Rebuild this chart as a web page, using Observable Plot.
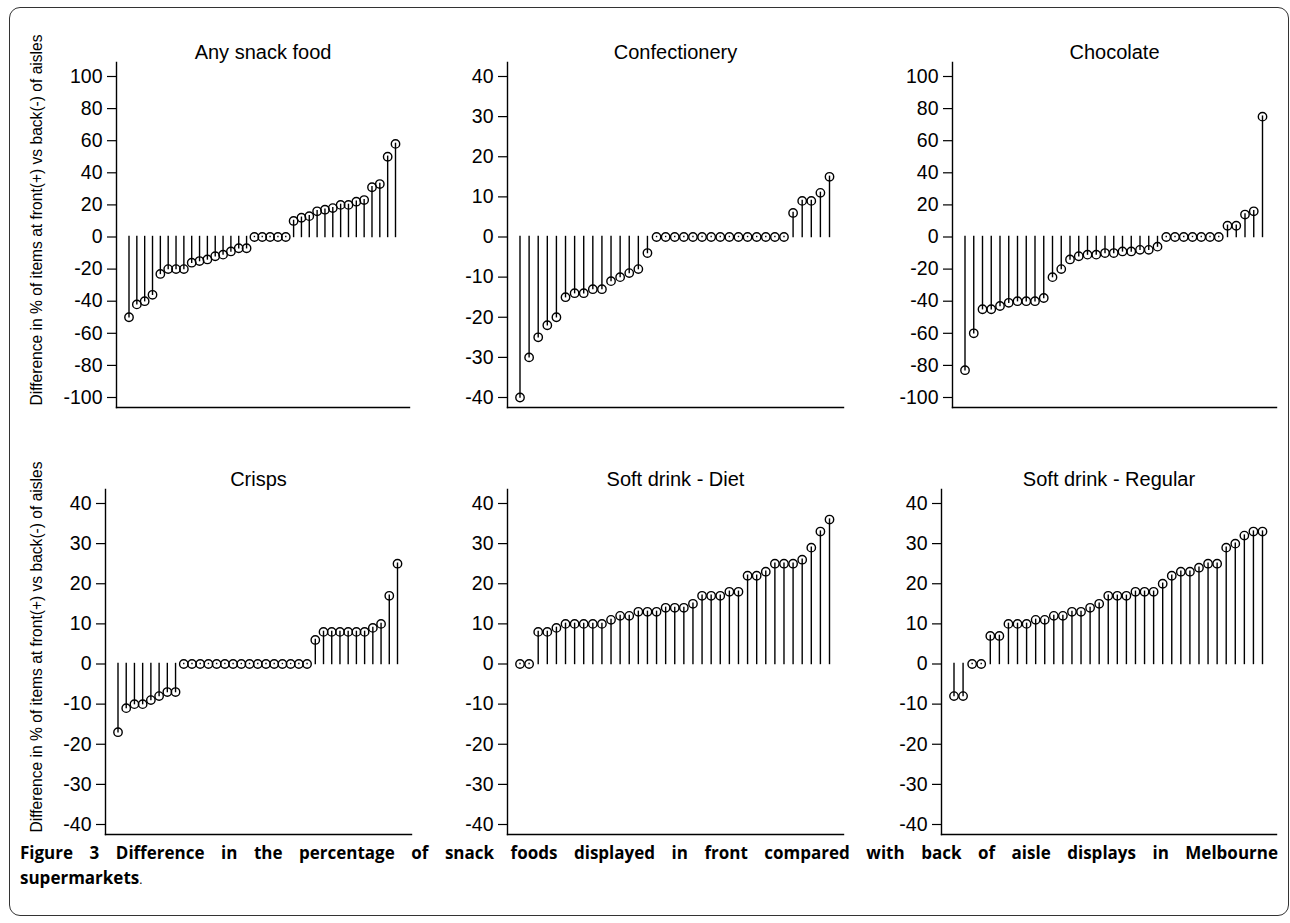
<!DOCTYPE html>
<html>
<head>
<meta charset="utf-8">
<script src="https://cdn.jsdelivr.net/npm/d3@7"></script>
<script src="https://cdn.jsdelivr.net/npm/@observablehq/plot@0.6"></script>
<style>
  html, body { margin: 0; padding: 0; background: #fff; }
  body { width: 1290px; height: 923px; position: relative; overflow: hidden; font-family: "Liberation Sans", Arial, sans-serif; }
  #border { position: absolute; left: 9px; top: 7px; width: 1280px; height: 909px; border: 1.3px solid #333; border-radius: 11px; box-sizing: border-box; }
  .panel { position: absolute; }
  .ylab { position: absolute; width: 440px; height: 18px; line-height: 18px; text-align: center; font-family: "Liberation Sans", Arial, sans-serif; font-size: 15.6px; color: #000; transform: rotate(-90deg); transform-origin: center center; white-space: nowrap; }
  #caption { position: absolute; left: 20px; top: 840px; width: 1258px; font-family: "Open Sans", "DejaVu Sans", sans-serif; font-size: 17px; color: #000; line-height: 25px; }
  #caption .l1 { font-weight: bold; text-align: justify; text-align-last: justify; white-space: nowrap; overflow: hidden; }
  #caption .l1 { white-space: normal; }
  #caption .l2 b { font-weight: bold; }
  #caption .l2 span { font-size: 12px; }
</style>
</head>
<body>
<div id="border"></div>
<div id="charts"></div>
<div class="ylab" style="left:-183px; top:211px;">Difference in % of items at front(+) vs back(-) of aisles</div>
<div class="ylab" style="left:-183px; top:638px;">Difference in % of items at front(+) vs back(-) of aisles</div>
<div id="caption">
  <div class="l1">Figure 3 Difference in the percentage of snack foods displayed in front compared with back of aisle displays in Melbourne</div>
  <div class="l2"><b>supermarkets</b><span>.</span></div>
</div>
<script>
// ---- Data (35 supermarkets per panel, sorted) ----
const titles = ["Any snack food", "Confectionery", "Chocolate", "Crisps", "Soft drink - Diet", "Soft drink - Regular"];

const anySnack = [-50,-42,-40,-36,-23,-20,-20,-20,-16,-15,-14,-12,-11,-9,-7,-7,0,0,0,0,0,10,12,13,16,17,18,20,20,22,23,31,33,50,58];
const confectionery = [-40,-30,-25,-22,-20,-15,-14,-14,-13,-13,-11,-10,-9,-8,-4,0,0,0,0,0,0,0,0,0,0,0,0,0,0,0,6,9,9,11,15];
const chocolate = [-83,-60,-45,-45,-43,-41,-40,-40,-40,-38,-25,-20,-14,-12,-11,-11,-10,-10,-9,-9,-8,-8,-6,0,0,0,0,0,0,0,7,7,14,16,75];
const crisps = [-17,-11,-10,-10,-9,-8,-7,-7,0,0,0,0,0,0,0,0,0,0,0,0,0,0,0,0,6,8,8,8,8,8,8,9,10,17,25];
const softDiet = [0,0,8,8,9,10,10,10,10,10,11,12,12,13,13,13,14,14,14,15,17,17,17,18,18,22,22,23,25,25,25,26,29,33,36];
const softRegular = [-8,-8,0,0,7,7,10,10,10,11,11,12,12,13,13,14,15,17,17,17,18,18,18,20,22,23,23,24,25,25,29,30,32,33,33];

const ticksWide = [-100,-80,-60,-40,-20,0,20,40,60,80,100];
const ticksNarrow = [-40,-30,-20,-10,0,10,20,30,40];

const series = [anySnack, confectionery, chocolate, crisps, softDiet, softRegular];
const tickSets = [ticksWide, ticksNarrow, ticksWide, ticksNarrow, ticksNarrow, ticksNarrow];

// ---- Layout (frame edges in page pixels) ----
const layout = [
  {fl: 116, fr: 409, top: 20},
  {fl: 507, fr: 843, top: 20},
  {fl: 952, fr: 1276, top: 20},
  {fl: 105, fr: 411, top: 447},
  {fl: 507, fr: 843, top: 447},
  {fl: 941, fr: 1276, top: 447}
];

const ML = 62, MR = 6, MT = 42, MB = 6, FH = 345;
const charts = document.getElementById("charts");

series.forEach((vals, k) => {
  const data = vals.map((v, i) => ({i: i + 1, v}));
  const ticks = tickSets[k];
  const lo = d3.min(ticks), hi = d3.max(ticks);
  const L = layout[k];
  const fw = L.fr - L.fl;
  const plot = Plot.plot({
    width: ML + fw + MR,
    height: MT + FH + MB,
    marginLeft: ML, marginRight: MR, marginTop: MT, marginBottom: MB,
    style: {fontFamily: "'Liberation Sans', Arial, sans-serif", fontSize: "19.5px", color: "#000", background: "transparent", overflow: "visible"},
    x: {domain: [1, vals.length], insetLeft: 12.5, insetRight: 14, axis: null},
    y: {domain: [lo, hi], insetTop: 14, insetBottom: 10, axis: null},
    marks: [
      Plot.axisY(ticks, {tickSize: 9, tickPadding: 5, tickFormat: d => String(d), label: null, strokeWidth: 1.2}),
      Plot.frame({anchor: "left", strokeWidth: 1.4}),
      Plot.frame({anchor: "bottom", strokeWidth: 1.4}),
      Plot.ruleX(data, {x: "i", y1: 0, y2: "v", stroke: "#000", strokeWidth: 1.4, strokeLinecap: "square"}),
      Plot.dot(data, {x: "i", y: "v", r: 4.2, stroke: "#000", strokeWidth: 1.4, fill: "none"}),
      Plot.text([titles[k]], {frameAnchor: "top", dy: -18, fontSize: 20, fill: "#000"})
    ]
  });
  plot.classList.add("panel");
  plot.style.left = (L.fl - ML) + "px";
  plot.style.top = L.top + "px";
  charts.appendChild(plot);
});
</script>
</body>
</html>
